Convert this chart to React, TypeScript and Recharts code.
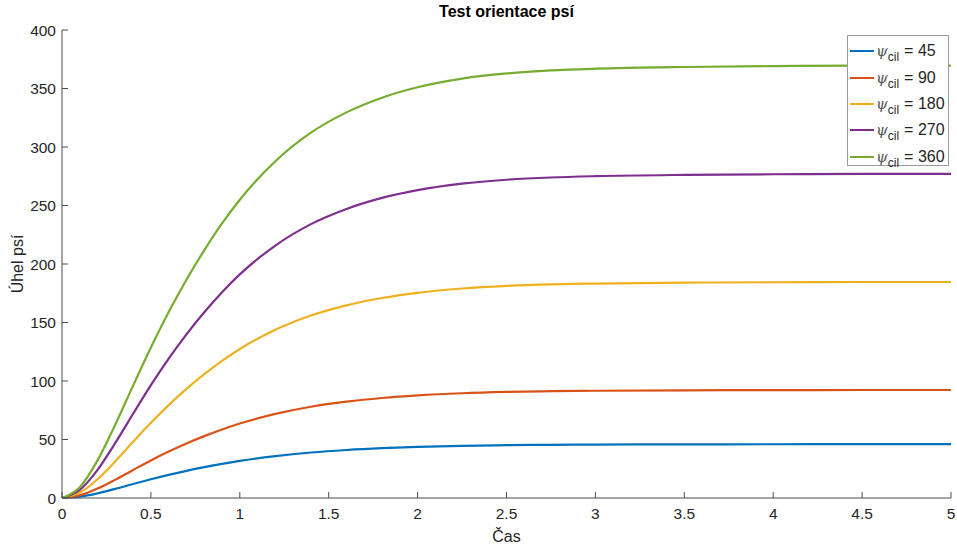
import { Line, LineChart, XAxis, YAxis } from "recharts";

const TIME = [0, 0.1, 0.2, 0.3, 0.4, 0.5, 0.6, 0.7, 0.8, 0.9, 1, 1.2, 1.4, 1.6, 1.8, 2, 2.25, 2.5, 2.75, 3, 3.5, 4, 4.5, 5];

const PSI_45 = [0, 1.15, 4.0, 7.82, 11.96, 16.01, 19.78, 23.23, 26.36, 29.21, 31.74, 35.83, 38.87, 41.03, 42.6, 43.7, 44.62, 45.17, 45.49, 45.68, 45.86, 45.95, 46, 46];
const PSI_90 = [0, 2.31, 8.03, 15.69, 24.0, 32.12, 39.69, 46.61, 52.89, 58.61, 63.69, 71.9, 77.99, 82.33, 85.47, 87.69, 89.53, 90.64, 91.28, 91.65, 92.02, 92.21, 92.3, 92.3];
const PSI_180 = [0, 4.62, 16.06, 31.38, 48.0, 64.24, 79.38, 93.22, 105.78, 117.22, 127.37, 143.8, 155.99, 164.66, 170.94, 175.37, 179.06, 181.28, 182.57, 183.31, 184.05, 184.42, 184.6, 184.6];
const PSI_270 = [0, 6.93, 24.1, 47.09, 72.02, 96.4, 119.11, 139.89, 158.72, 175.9, 191.13, 215.78, 234.07, 247.08, 256.5, 263.15, 268.69, 272.01, 273.95, 275.06, 276.17, 276.72, 277, 277];
const PSI_360 = [0, 9.24, 32.15, 62.82, 96.07, 128.59, 158.89, 186.6, 211.72, 234.63, 254.96, 287.84, 312.23, 329.59, 342.16, 351.03, 358.42, 362.85, 365.44, 366.91, 368.39, 369.13, 369.5, 369.5];

const TARGETS = ["45", "90", "180", "270", "360"];
const SERIES_VALUES = [PSI_45, PSI_90, PSI_180, PSI_270, PSI_360];
const COLORS = ["#0072BD", "#D95319", "#EDB120", "#7E2F8E", "#77AC30"];

const X_TICKS = [0, 0.5, 1, 1.5, 2, 2.5, 3, 3.5, 4, 4.5, 5];
const Y_TICKS = [0, 50, 100, 150, 200, 250, 300, 350, 400];

const FONT = "'Liberation Sans', Arial, Helvetica, sans-serif";
const AXIS = "#4d4d4d";
const TEXT = "#262626";
const TICK_LEN = 6;

const data = TIME.map((t, i) => {
  const row: Record<string, number> = { t };
  TARGETS.forEach((k, s) => (row[k] = SERIES_VALUES[s][i]));
  return row;
});

function BottomTick({ x, y, payload }: any) {
  return (
    <g>
      <line x1={x} y1={y} x2={x} y2={y - TICK_LEN} stroke={AXIS} />
      <text x={x} y={y + 21} textAnchor="middle" fill={TEXT} fontSize={15.5} fontFamily={FONT}>{payload.value}</text>
    </g>
  );
}

function TopTick({ x, y }: any) {
  return <line x1={x} y1={y} x2={x} y2={y + TICK_LEN} stroke={AXIS} />;
}

function LeftTick({ x, y, payload }: any) {
  return (
    <g>
      <line x1={x} y1={y} x2={x + TICK_LEN} y2={y} stroke={AXIS} />
      <text x={x - 6} y={y + 5.5} textAnchor="end" fill={TEXT} fontSize={15.5} fontFamily={FONT}>{payload.value}</text>
    </g>
  );
}

function RightTick({ x, y }: any) {
  return <line x1={x} y1={y} x2={x - TICK_LEN} y2={y} stroke={AXIS} />;
}

function LegendBox() {
  return (
    <div style={{ position: "absolute", left: 847, top: 35, width: 102, height: 131, background: "#fff", border: "1px solid #9a9a9a", fontFamily: FONT, color: TEXT, fontSize: 16, paddingTop: 2, boxSizing: "border-box" }}>
      {TARGETS.map((k, i) => (
        <div key={k} style={{ display: "flex", alignItems: "center", height: 26.4 }}>
          <svg width={26} height={10} style={{ marginLeft: 2 }}>
            <line x1={0} y1={5} x2={24} y2={5} stroke={COLORS[i]} strokeWidth={2} />
          </svg>
          <span style={{ fontStyle: "italic", fontFamily: "'DejaVu Serif', serif", fontSize: 15, color: "#555" }}>ψ</span>
          <span style={{ fontSize: 12, position: "relative", top: 6, marginRight: 5 }}>cil</span>
          <span>= {k}</span>
        </div>
      ))}
    </div>
  );
}

export default function App() {
  return (
    <div style={{ position: "absolute", left: 0, top: 0, width: 957, height: 548, background: "#fff" }}>
      <div style={{ position: "absolute", left: 62, width: 889, top: 3, textAlign: "center", fontFamily: FONT, fontWeight: "bold", fontSize: 16, color: "#000" }}>
        Test orientace psí
      </div>
      <LineChart width={957} height={548} data={data} margin={{ top: 30, right: 6, bottom: 0, left: 22 }}>
        <XAxis
          dataKey="t"
          type="number"
          domain={[0, 5]}
          ticks={X_TICKS}
          height={50}
          stroke={AXIS}
          tickSize={0}
          tickMargin={0}
          tick={<BottomTick />}
          label={{ value: "Čas", position: "insideBottom", offset: 6, style: { fill: TEXT, fontSize: 16, fontFamily: FONT } }}
        />
        <XAxis xAxisId="top" orientation="top" dataKey="t" type="number" domain={[0, 5]} ticks={X_TICKS} height={0} stroke={AXIS} tickSize={0} tickMargin={0} tick={<TopTick />} />
        <YAxis
          type="number"
          domain={[0, 400]}
          ticks={Y_TICKS}
          width={40}
          stroke={AXIS}
          tickSize={0}
          tickMargin={0}
          tick={<LeftTick />}
          label={{ value: "Úhel psí", angle: -90, position: "insideLeft", offset: -5, style: { fill: TEXT, fontSize: 16, fontFamily: FONT, textAnchor: "middle" } }}
        />
        <YAxis yAxisId="right" orientation="right" type="number" domain={[0, 400]} ticks={Y_TICKS} width={0} stroke={AXIS} tickSize={0} tickMargin={0} tick={<RightTick />} />
        {TARGETS.map((k, i) => (
          <Line key={k} dataKey={k} type="monotone" stroke={COLORS[i]} strokeWidth={2.2} dot={false} isAnimationActive={false} />
        ))}
      </LineChart>
      <LegendBox />
    </div>
  );
}
